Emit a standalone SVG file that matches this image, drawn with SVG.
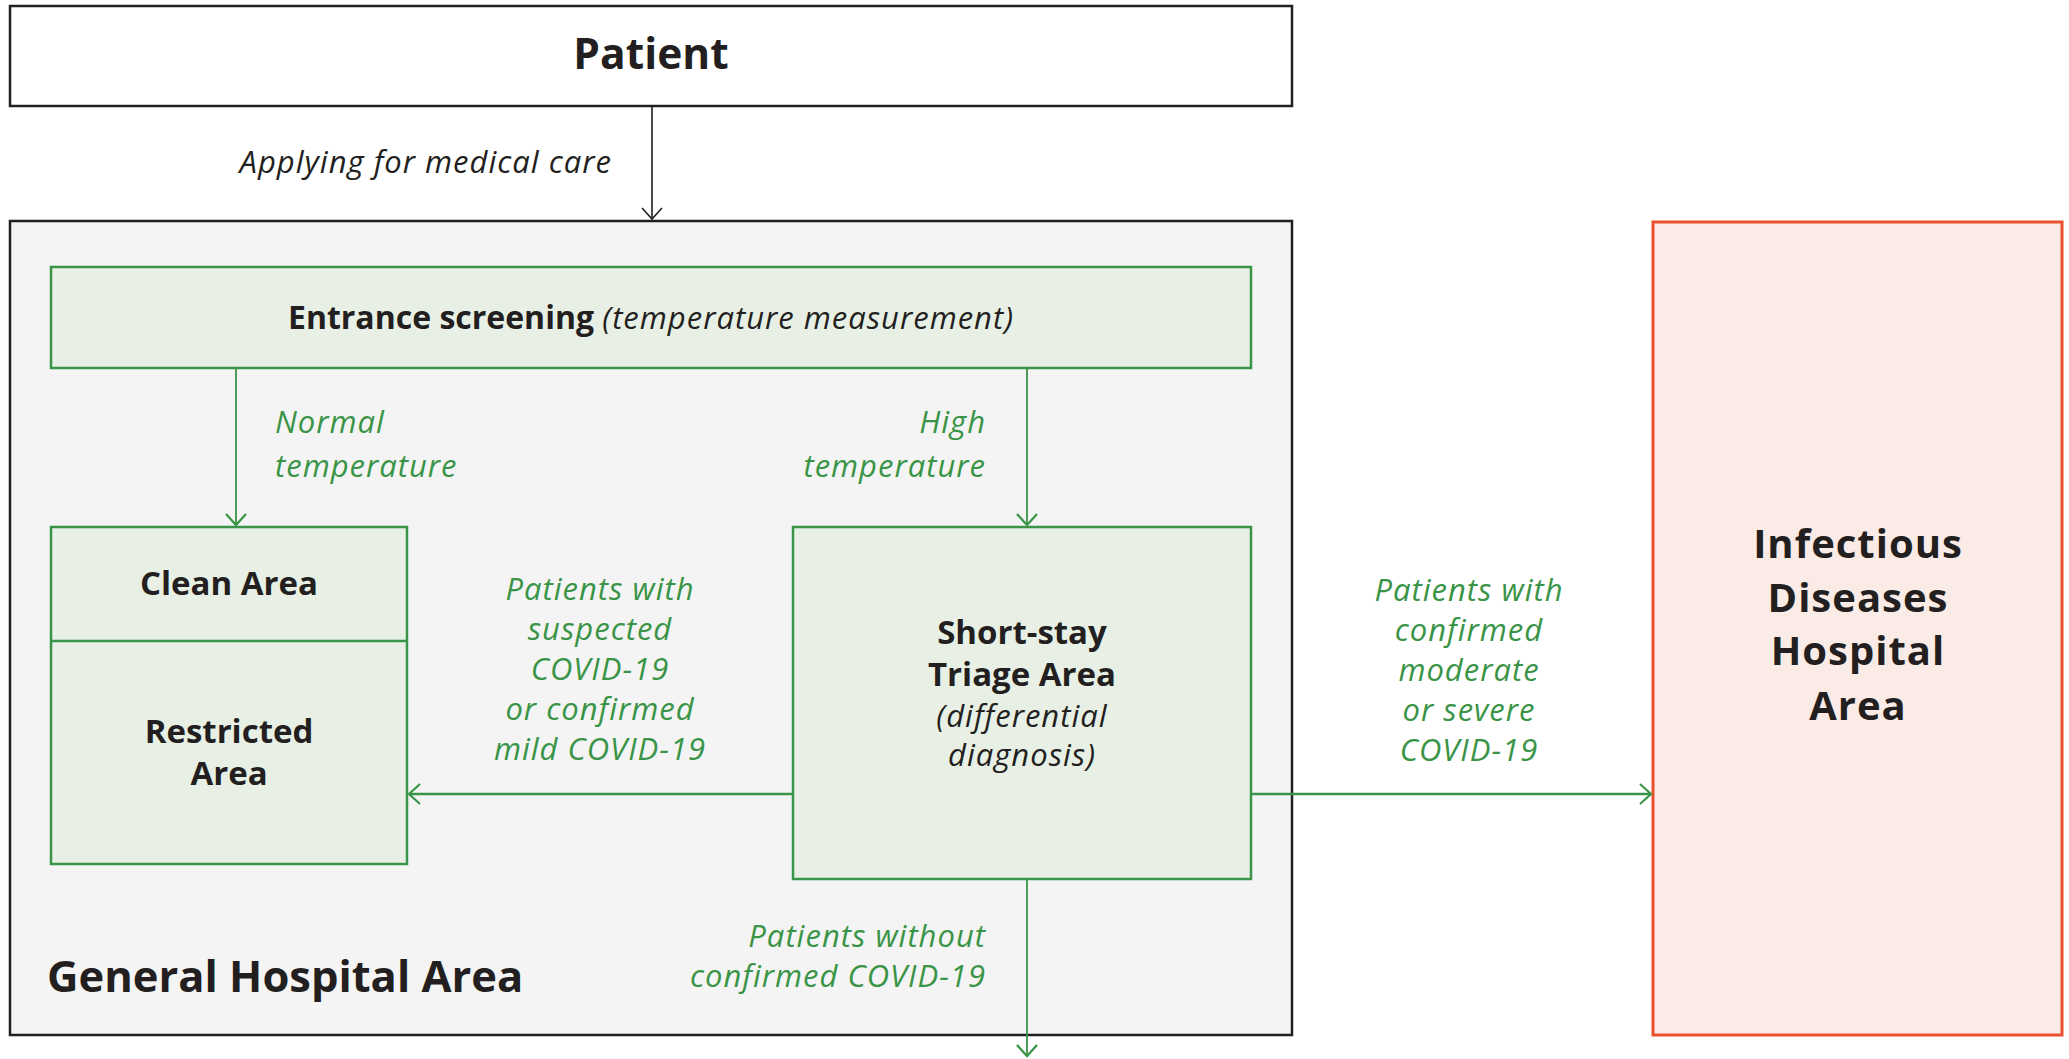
<svg xmlns="http://www.w3.org/2000/svg" width="2069" height="1059" viewBox="0 0 2069 1059">
<defs>
<style>
text{font-family:"Open Sans","Liberation Sans",sans-serif;}
.b{font-weight:700;fill:#231f20;}
.i{font-style:italic;font-weight:500;fill:#231f20;letter-spacing:1px;}
.g{font-style:italic;font-weight:500;fill:#3a9447;letter-spacing:1px;}
.gbox{fill:#e8f0e5;stroke:#3a9447;stroke-width:2.5;}
.gl{stroke:#3a9447;fill:none;}
</style>
<marker id="ak" markerUnits="userSpaceOnUse" viewBox="-12 -11 14 22" refX="0" refY="0" markerWidth="14" markerHeight="22" orient="auto">
<path d="M-11,-10 L0,0 L-11,10" fill="none" stroke="#231f20" stroke-width="1.6"/>
</marker>
<marker id="ag" markerUnits="userSpaceOnUse" viewBox="-12 -11 14 22" refX="0" refY="0" markerWidth="14" markerHeight="22" orient="auto">
<path d="M-11,-10 L0,0 L-11,10" fill="none" stroke="#3a9447" stroke-width="2.2"/>
</marker>
</defs>
<rect width="2069" height="1059" fill="#ffffff"/>

<g id="general">
<rect x="10" y="221" width="1282" height="814" fill="#f4f4f4" stroke="#231f20" stroke-width="2.5"/>
<text class="b" x="47" y="992" font-size="43.5">General Hospital Area</text>
</g>

<g id="patient">
<rect x="10" y="6" width="1282" height="100" fill="#ffffff" stroke="#231f20" stroke-width="2.5"/>
<text class="b" x="651" y="69" font-size="42.5" text-anchor="middle">Patient</text>
</g>

<g id="entrance">
<rect class="gbox" x="51" y="267" width="1200" height="101"/>
<text x="651" y="329" font-size="32" text-anchor="middle"><tspan class="b">Entrance screening </tspan><tspan class="i" font-size="31">(temperature measurement)</tspan></text>
</g>

<g id="clean-restricted">
<rect class="gbox" x="51" y="527" width="356" height="337"/>
<line class="gl" x1="51" y1="641" x2="407" y2="641" stroke-width="2.5"/>
<text class="b" x="229" y="595" font-size="33" text-anchor="middle">Clean Area</text>
<text class="b" x="229" y="743" font-size="33" text-anchor="middle">Restricted</text>
<text class="b" x="229" y="785" font-size="33" text-anchor="middle">Area</text>
</g>

<g id="triage">
<rect class="gbox" x="793" y="527" width="458" height="352"/>
<text class="b" x="1022" y="644" font-size="33" text-anchor="middle">Short-stay</text>
<text class="b" x="1022" y="686" font-size="33" text-anchor="middle">Triage Area</text>
<text class="i" x="1022" y="727" font-size="31" text-anchor="middle">(differential</text>
<text class="i" x="1022" y="766" font-size="31" text-anchor="middle">diagnosis)</text>
</g>

<g id="infectious">
<rect x="1653" y="222" width="409" height="813" fill="#fbebe7" stroke="#e8512f" stroke-width="3"/>
<text class="b" x="1858" y="558" font-size="40" text-anchor="middle" letter-spacing="1">Infectious</text>
<text class="b" x="1858" y="612" font-size="40" text-anchor="middle" letter-spacing="1">Diseases</text>
<text class="b" x="1858" y="665" font-size="40" text-anchor="middle" letter-spacing="1">Hospital</text>
<text class="b" x="1858" y="720" font-size="40" text-anchor="middle" letter-spacing="1">Area</text>
</g>

<g id="connectors">
<line x1="652" y1="107" x2="652" y2="219" stroke="#231f20" stroke-width="1.6" marker-end="url(#ak)"/>
<line class="gl" x1="236" y1="369" x2="236" y2="525" stroke-width="1.8" marker-end="url(#ag)"/>
<line class="gl" x1="1027" y1="369" x2="1027" y2="525" stroke-width="1.8" marker-end="url(#ag)"/>
<line class="gl" x1="793" y1="794" x2="409" y2="794" stroke-width="2.5" marker-end="url(#ag)"/>
<line class="gl" x1="1251" y1="794" x2="1651" y2="794" stroke-width="2.5" marker-end="url(#ag)"/>
<line class="gl" x1="1027" y1="879" x2="1027" y2="1056" stroke-width="1.8" marker-end="url(#ag)"/>
<text class="i" x="612" y="173" font-size="31" text-anchor="end">Applying for medical care</text>
<text class="g" x="275" y="433" font-size="31">Normal</text>
<text class="g" x="275" y="477" font-size="31">temperature</text>
<text class="g" x="986" y="433" font-size="31" text-anchor="end">High</text>
<text class="g" x="986" y="477" font-size="31" text-anchor="end">temperature</text>
<text class="g" x="600" y="600" font-size="31" text-anchor="middle">Patients with</text>
<text class="g" x="600" y="640" font-size="31" text-anchor="middle">suspected</text>
<text class="g" x="600" y="680" font-size="31" text-anchor="middle">COVID-19</text>
<text class="g" x="600" y="720" font-size="31" text-anchor="middle">or confirmed</text>
<text class="g" x="600" y="760" font-size="31" text-anchor="middle">mild COVID-19</text>
<text class="g" x="1469" y="601" font-size="31" text-anchor="middle">Patients with</text>
<text class="g" x="1469" y="641" font-size="31" text-anchor="middle">confirmed</text>
<text class="g" x="1469" y="681" font-size="31" text-anchor="middle">moderate</text>
<text class="g" x="1469" y="721" font-size="31" text-anchor="middle">or severe</text>
<text class="g" x="1469" y="761" font-size="31" text-anchor="middle">COVID-19</text>
<text class="g" x="986" y="947" font-size="31" text-anchor="end">Patients without</text>
<text class="g" x="986" y="987" font-size="31" text-anchor="end">confirmed COVID-19</text>
</g>
</svg>
